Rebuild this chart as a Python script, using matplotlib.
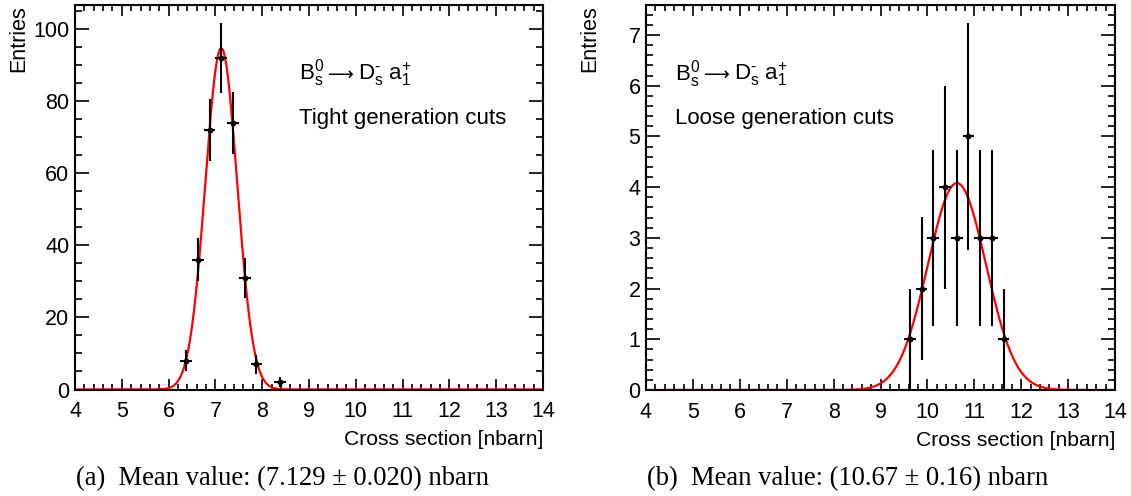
import numpy as np
import matplotlib
matplotlib.use("Agg")
import matplotlib.pyplot as plt
from matplotlib.ticker import MultipleLocator

plt.rcParams["font.family"] = ["Liberation Sans", "DejaVu Sans"]
plt.rcParams["mathtext.fontset"] = "custom"
plt.rcParams["mathtext.rm"] = "Liberation Sans"
plt.rcParams["mathtext.it"] = "Liberation Sans"
plt.rcParams["mathtext.sf"] = "Liberation Sans"

# Histogram bins (centre, entries) for the two generation-cut settings
bin_width = 0.25
tight_centers = [6.375, 6.625, 6.875, 7.125, 7.375, 7.625, 7.875, 8.375]
tight_counts = [8, 36, 72, 92, 74, 31, 7, 2]
loose_centers = [9.625, 9.875, 10.125, 10.375, 10.625, 10.875, 11.125, 11.375, 11.625]
loose_counts = [1, 2, 3, 4, 3, 5, 3, 3, 1]

# Gaussian fit parameters (amplitude, mean, sigma)
tight_fit = (94.7, 7.125, 0.34)
loose_fit = (4.08, 10.63, 0.62)

x_range = (4, 14)
y_max = {"tight": 106.7, "loose": 7.59}

decay_parts = [r"$\mathrm{B_s^0}$", "\u27f6", r"$\mathrm{D_s^{\text{-}}\ a_1^{+}}$"]
cut_labels = ["Tight generation cuts", "Loose generation cuts"]
captions = ["(a)  Mean value: (7.129 \u00b1 0.020) nbarn",
            "(b)  Mean value: (10.67 \u00b1 0.16) nbarn"]

W, H = 1131, 496
fig = plt.figure(figsize=(W / 100, H / 100), dpi=100)

panels = [
    dict(rect=(75, 5, 543, 389.5), centers=tight_centers, counts=tight_counts,
         fit=tight_fit, ymax=y_max["tight"], ymajor=20, yminor=5,
         text_x=0.479, label=cut_labels[0], caption=captions[0], cap_x=0.2495),
    dict(rect=(646, 5, 1115, 390), centers=loose_centers, counts=loose_counts,
         fit=loose_fit, ymax=y_max["loose"], ymajor=1, yminor=0.2,
         text_x=0.062, label=cut_labels[1], caption=captions[1], cap_x=0.7495),
]


def decay_label(ax, x, y):
    """Draw the decay string piece by piece so the arrow can use a wider glyph."""
    renderer = fig.canvas.get_renderer()
    fonts = [None, ["DejaVu Sans"], None]
    sizes = [16, 13, 16]
    gaps = [4, 4, 0]
    cur = ax.transAxes.transform((x, y))
    for part, fam, size, gap in zip(decay_parts, fonts, sizes, gaps):
        kw = dict(fontsize=size, ha="left", va="baseline")
        if fam:
            kw["family"] = fam
        t = ax.text(cur[0], cur[1], part, transform=None, **kw)
        bb = t.get_window_extent(renderer)
        cur = (bb.x1 + gap, cur[1])


for p in panels:
    x0, y0, x1, y1 = p["rect"]
    ax = fig.add_axes([x0 / W, 1 - y1 / H, (x1 - x0) / W, (y1 - y0) / H])
    ax.set_xlim(*x_range)
    ax.set_ylim(0, p["ymax"])

    # fitted gaussian across the full range
    amp, mu, sig = p["fit"]
    xs = np.linspace(x_range[0], x_range[1], 800)
    ax.plot(xs, amp * np.exp(-0.5 * ((xs - mu) / sig) ** 2), color="red", lw=1.6, zorder=2)

    counts = np.array(p["counts"], dtype=float)
    ax.errorbar(p["centers"], counts, xerr=bin_width / 2, yerr=np.sqrt(counts),
                fmt="o", ms=3.2, color="black", ecolor="black", elinewidth=1.5,
                capsize=0, zorder=3)

    ax.xaxis.set_major_locator(MultipleLocator(1))
    ax.xaxis.set_minor_locator(MultipleLocator(0.2))
    ax.yaxis.set_major_locator(MultipleLocator(p["ymajor"]))
    ax.yaxis.set_minor_locator(MultipleLocator(p["yminor"]))
    ax.tick_params(axis="both", which="both", direction="in", top=True, right=True,
                   width=1.2, labelsize=15.5)
    ax.tick_params(axis="x", which="major", length=8, pad=8.5)
    ax.tick_params(axis="x", which="minor", length=4)
    ax.tick_params(axis="y", which="major", length=10, pad=4)
    ax.tick_params(axis="y", which="minor", length=5)
    for s in ax.spines.values():
        s.set_linewidth(1.5)

    ax.text(1.0, -0.13, "Cross section [nbarn]", transform=ax.transAxes,
            ha="right", va="center", fontsize=15.2)
    ax.text(-0.121, 1.0, "Entries", transform=ax.transAxes, rotation=90,
            ha="center", va="top", fontsize=15.5)

    decay_label(ax, p["text_x"], 0.805)
    ax.text(p["text_x"], 0.691, p["label"], transform=ax.transAxes,
            ha="left", va="baseline", fontsize=16)

    fig.text(p["cap_x"], 1 - 479 / H, p["caption"], ha="center", va="center",
             fontsize=19.2, family=["Liberation Serif", "DejaVu Serif"])

fig.savefig("out.png", dpi=100)
